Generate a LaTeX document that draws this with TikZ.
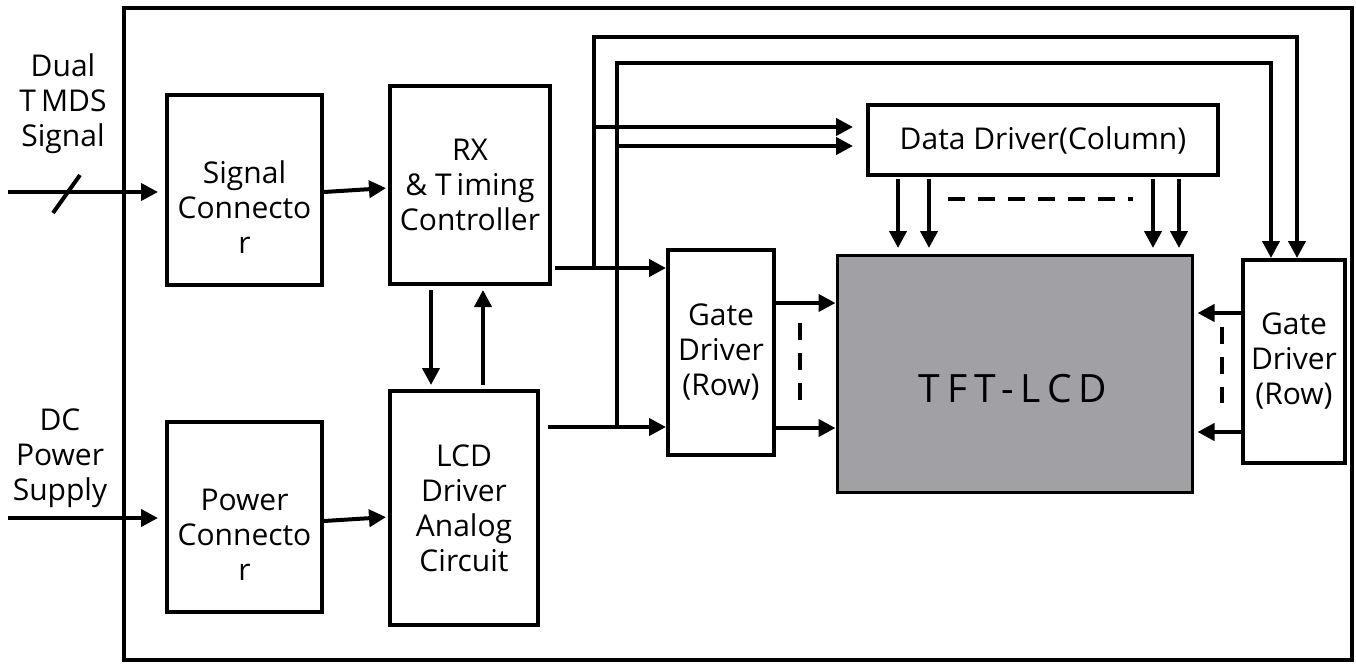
\documentclass[tikz,border=0pt]{standalone}
\usepackage{fontspec}
\setmainfont{Open Sans}
\usetikzlibrary{arrows.meta,positioning}

\definecolor{tftgray}{HTML}{A1A0A5}

\tikzset{
  blk/.style={draw, line width=2pt, inner sep=0pt, align=center},
  txt/.style={align=center, inner sep=0pt},
  dsh/.style={dash pattern=on 8.5pt off 6.5pt},
}

\begin{document}
\begin{tikzpicture}[x=0.5pt,y=-0.5pt,line width=2pt,>={Triangle[length=8.5pt,width=8.5pt]},
  font=\fontsize{15}{17.5}\selectfont]
  \useasboundingbox (0,0) rectangle (1356,664);
  \draw (124,8) rectangle (1352,660);

  % blocks
  \node[blk, minimum width=77.5pt, minimum height=95pt,
    label={[txt,yshift=-8.5pt]center:Signal\\Connecto\\r}] (sigcon) at (244.5,190) {};
  \node[blk, minimum width=80pt, minimum height=99pt] (rx) at (470,185) {RX\\\& T\,iming\\Controller};
  \node[blk, minimum width=77.5pt, minimum height=95pt,
    label={[txt,yshift=-9pt]center:Power\\Connecto\\r}] (pwrcon) at (244.5,517) {};
  \node[blk, minimum width=74pt, minimum height=117pt] (lcddrv) at (464,508) {LCD\\Driver\\Analog\\Circuit};
  \node[blk, minimum width=175pt, minimum height=35pt] (datadrv) at (1043,140) {Data Driver(Column)};
  \node[blk, minimum width=53pt, minimum height=102.5pt] (gateL) at (721,352.5) {Gate\\Driver\\(Row)};
  \node[blk, fill=tftgray, line width=1.5pt, minimum width=177.5pt, minimum height=118.5pt] (tft) at (1014.5,373.5) {};
  \node[txt, font=\fontsize{19.5}{20}\selectfont\addfontfeature{LetterSpace=18}] (tftlbl) at (1013,389) {TFT-LCD};
  \node[blk, minimum width=51pt, minimum height=101.5pt] (gateR) at (1294,361.5) {Gate\\Driver\\(Row)};

  % inputs
  \node[txt] (tmdslbl) at (63,104) {Dual\\T\,MDS\\Signal};
  \node[txt] (dclbl) at (60,458) {DC\\Power\\Supply};
  \coordinate (tmdsin) at (8,192);
  \coordinate (dcin) at (8,518);
  \draw[->, shorten >=3.5pt] (tmdsin) -- (tmdsin -| sigcon.west);
  \draw (53,213) -- (80,175);
  \draw[->, shorten >=3.5pt] (dcin) -- (dcin -| pwrcon.west);

  \coordinate (scout) at (0,192);
  \coordinate (rxin) at (0,188);
  \coordinate (pcout) at (0,521);
  \coordinate (lcin) at (0,517);
  \draw[->, shorten >=1pt] (scout -| sigcon.east) -- (rxin -| rx.west);
  \draw[->, shorten >=1pt] (pcout -| pwrcon.east) -- (lcin -| lcddrv.west);

  % controller <-> analog circuit
  \coordinate (dn) at (431,0);
  \coordinate (up) at (483,0);
  \draw[->, shorten <=2pt, shorten >=2pt] (dn |- rx.south) -- (dn |- lcddrv.north);
  \draw[<-, shorten <=2pt, shorten >=2pt] (up |- rx.south) -- (up |- lcddrv.north);

  % outputs to the left gate driver
  \coordinate (rxout) at (555,268);
  \coordinate (lcdout) at (548,427);
  \draw[->] (rxout) -- (rxout -| gateL.west);
  \draw[->] (lcdout) -- (lcdout -| gateL.west);

  % buses over the top
  \coordinate (busA) at (594,37);
  \coordinate (busB) at (617,63);
  \coordinate (gRa) at (1297,0);
  \coordinate (gRb) at (1271,0);
  \draw[->] (busA |- rxout) -- (busA) -| (gRa |- gateR.north);
  \draw[->] (busB |- lcdout) -- (busB) -| (gRb |- gateR.north);
  \coordinate (ddA) at (0,127);
  \coordinate (ddB) at (0,146);
  \draw[->, shorten >=6.5pt] (busA |- ddA) -- (ddA -| datadrv.west);
  \draw[->, shorten >=6.5pt] (busB |- ddB) -- (ddB -| datadrv.west);

  % drivers -> panel
  \foreach \x in {898,929,1153,1179} {
    \coordinate (col) at (\x,0);
    \draw[->, shorten <=1pt, shorten >=2.75pt] (col |- datadrv.south) -- (col |- tft.north);
  }
  \draw[dsh] (948,199) -- (1133,199);

  \coordinate (gLa) at (0,303);
  \coordinate (gLb) at (0,428);
  \draw[->] (gLa -| gateL.east) -- (gLa -| tft.west);
  \draw[->] (gLb -| gateL.east) -- (gLb -| tft.west);
  \draw[dsh] (800,323) -- (800,400);

  \coordinate (gRc) at (0,313);
  \coordinate (gRd) at (0,432);
  \draw[->, shorten >=2pt] (gRc -| gateR.west) -- (gRc -| tft.east);
  \draw[->, shorten >=2pt] (gRd -| gateR.west) -- (gRd -| tft.east);
  \draw[dsh] (1222,327) -- (1222,403);

\end{tikzpicture}
\end{document}
